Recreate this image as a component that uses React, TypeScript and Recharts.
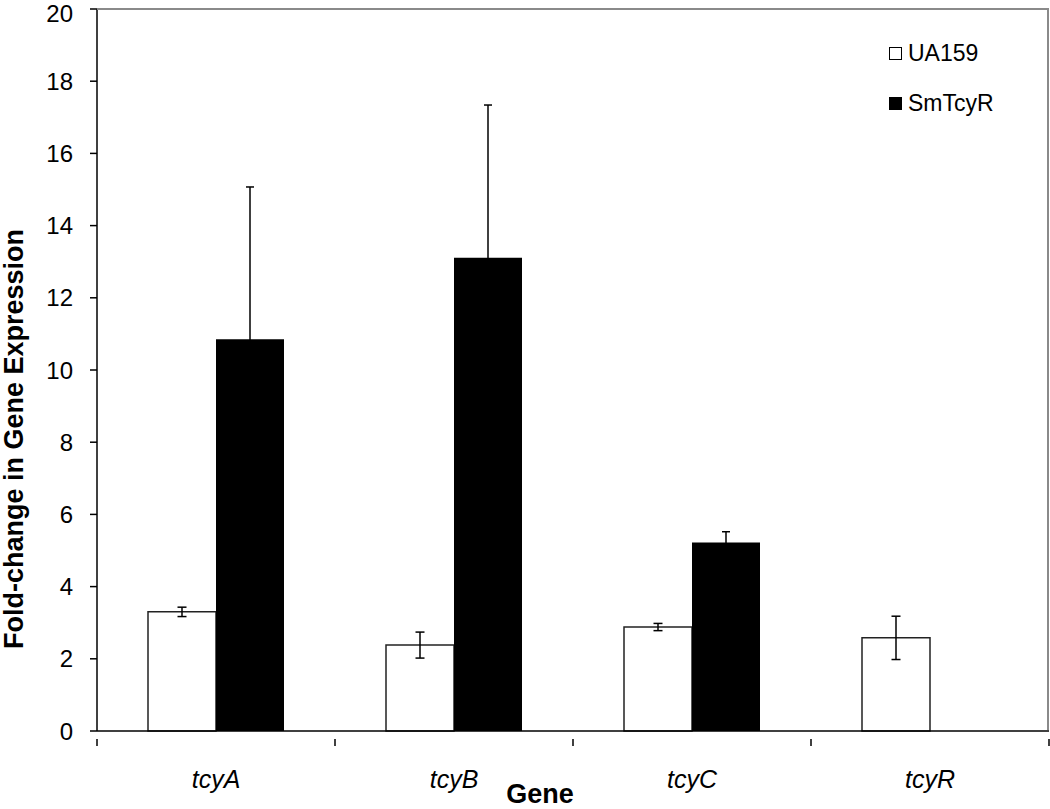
import React from "react";
import {
  BarChart,
  Bar,
  XAxis,
  YAxis,
  ErrorBar,
  Legend,
  Label,
} from "recharts";

const genes = ["tcyA", "tcyB", "tcyC", "tcyR"];
const seriesNames = ["UA159", "SmTcyR"];
const ua159 = [3.3, 2.38, 2.88, 2.58];
const ua159Err = [0.13, 0.36, 0.1, 0.6];
const smTcyR = [10.85, 13.11, 5.22, 0];
const smTcyRErr = [4.22, 4.23, 0.3, 0];
const yTicks = [0, 2, 4, 6, 8, 10, 12, 14, 16, 18, 20];

const data = genes.map((g, i) => ({
  gene: g,
  UA159: ua159[i],
  ua159Err: ua159Err[i],
  SmTcyR: smTcyR[i] > 0 ? smTcyR[i] : null,
  smTcyRErr: smTcyRErr[i],
}));

const FONT = '"Liberation Sans", Arial, sans-serif';
const W = 1050;
const H = 809;
const MARGIN = { top: 9, right: 1, left: 0, bottom: 0 };
const Y_AXIS_W = 97;
const X_AXIS_H = 78;

// category ticks sit on the band edges, labels in the middle
const GeneTick = (props: any) => {
  const { x, y, payload, index } = props;
  const half = payload.offset || 0;
  const last = index === genes.length - 1;
  return (
    <g>
      <line x1={x - half} y1={y} x2={x - half} y2={y + 7} stroke="#000" strokeWidth={1.5} />
      {last && (
        <line x1={x + half} y1={y} x2={x + half} y2={y + 7} stroke="#000" strokeWidth={1.5} />
      )}
      <text
        x={x}
        y={y + 49}
        textAnchor="middle"
        fontFamily={FONT}
        fontSize={25}
        fontStyle="italic"
        fill="#000"
      >
        {payload.value}
      </text>
    </g>
  );
};

// top label is nudged down a bit so it isn't clipped, like the original
const ValueTick = (props: any) => {
  const { x, y, payload } = props;
  const nudge = payload.value === yTicks[yTicks.length - 1] ? 4 : 0;
  return (
    <text
      x={x}
      y={y + nudge}
      dy="0.355em"
      textAnchor="end"
      fontFamily={FONT}
      fontSize={24}
      fill="#000"
    >
      {payload.value}
    </text>
  );
};

const renderLegend = (props: any) => {
  const payload = [...(props.payload || [])].sort(
    (a: any, b: any) => seriesNames.indexOf(a.value) - seriesNames.indexOf(b.value)
  );
  return (
    <div style={{ fontFamily: FONT, fontSize: 23, color: "#000" }}>
      {payload.map((entry: any) => (
        <div
          key={entry.value}
          style={{ height: 50, display: "flex", alignItems: "center" }}
        >
          <span
            style={{
              display: "inline-block",
              width: 11,
              height: 11,
              border: "1px solid #000",
              background: entry.value === "UA159" ? "#fff" : "#000",
              marginRight: 6,
            }}
          />
          {entry.value}
        </div>
      ))}
    </div>
  );
};

export default function App() {
  return (
    <div style={{ position: "absolute", left: 0, top: 0, width: W, height: H, background: "#fff" }}>
      <BarChart
        width={W}
        height={H}
        data={data}
        margin={MARGIN}
        barGap={0}
        barSize={68}
      >
        <XAxis
          dataKey="gene"
          height={X_AXIS_H}
          axisLine={{ stroke: "#000", strokeWidth: 1.5 }}
          tickLine={false}
          tick={<GeneTick />}
          interval={0}
        >
          <Label
            value="Gene"
            position="center"
            dx={-33}
            dy={23}
            style={{ fontFamily: FONT, fontSize: 27, fontWeight: "bold", fill: "#000" }}
          />
        </XAxis>
        <YAxis
          width={Y_AXIS_W}
          domain={[0, 20]}
          ticks={yTicks}
          interval={0}
          tickSize={7}
          tickMargin={17}
          axisLine={{ stroke: "#000", strokeWidth: 1.5 }}
          tickLine={{ stroke: "#000", strokeWidth: 1.5 }}
          tick={<ValueTick />}
        >
          <Label
            value="Fold-change in Gene Expression"
            position="center"
            angle={-90}
            dx={-35}
            dy={69}
            style={{ fontFamily: FONT, fontSize: 27, fontWeight: "bold", fill: "#000" }}
          />
        </YAxis>
        <Legend
          layout="vertical"
          align="center"
          verticalAlign="middle"
          content={renderLegend}
          wrapperStyle={{ top: 28, left: 889, width: "auto" }}
        />
        <Bar
          dataKey="UA159"
          name="UA159"
          fill="#fff"
          stroke="#222"
          strokeWidth={1.5}
          isAnimationActive={false}
        >
          <ErrorBar dataKey="ua159Err" width={4.5} stroke="#000" strokeWidth={1.5} />
        </Bar>
        <Bar
          dataKey="SmTcyR"
          name="SmTcyR"
          fill="#000"
          isAnimationActive={false}
        >
          <ErrorBar dataKey="smTcyRErr" width={4} stroke="#000" strokeWidth={1.5} />
        </Bar>
      </BarChart>
      {/* gray frame on the top and right of the plot area */}
      <div
        style={{
          position: "absolute",
          left: MARGIN.left + Y_AXIS_W,
          top: MARGIN.top - 1,
          width: W - MARGIN.right - MARGIN.left - Y_AXIS_W,
          height: H - X_AXIS_H - MARGIN.top,
          borderTop: "2px solid #8a8a8a",
          borderRight: "2px solid #8a8a8a",
          boxSizing: "border-box",
          pointerEvents: "none",
        }}
      />
    </div>
  );
}
